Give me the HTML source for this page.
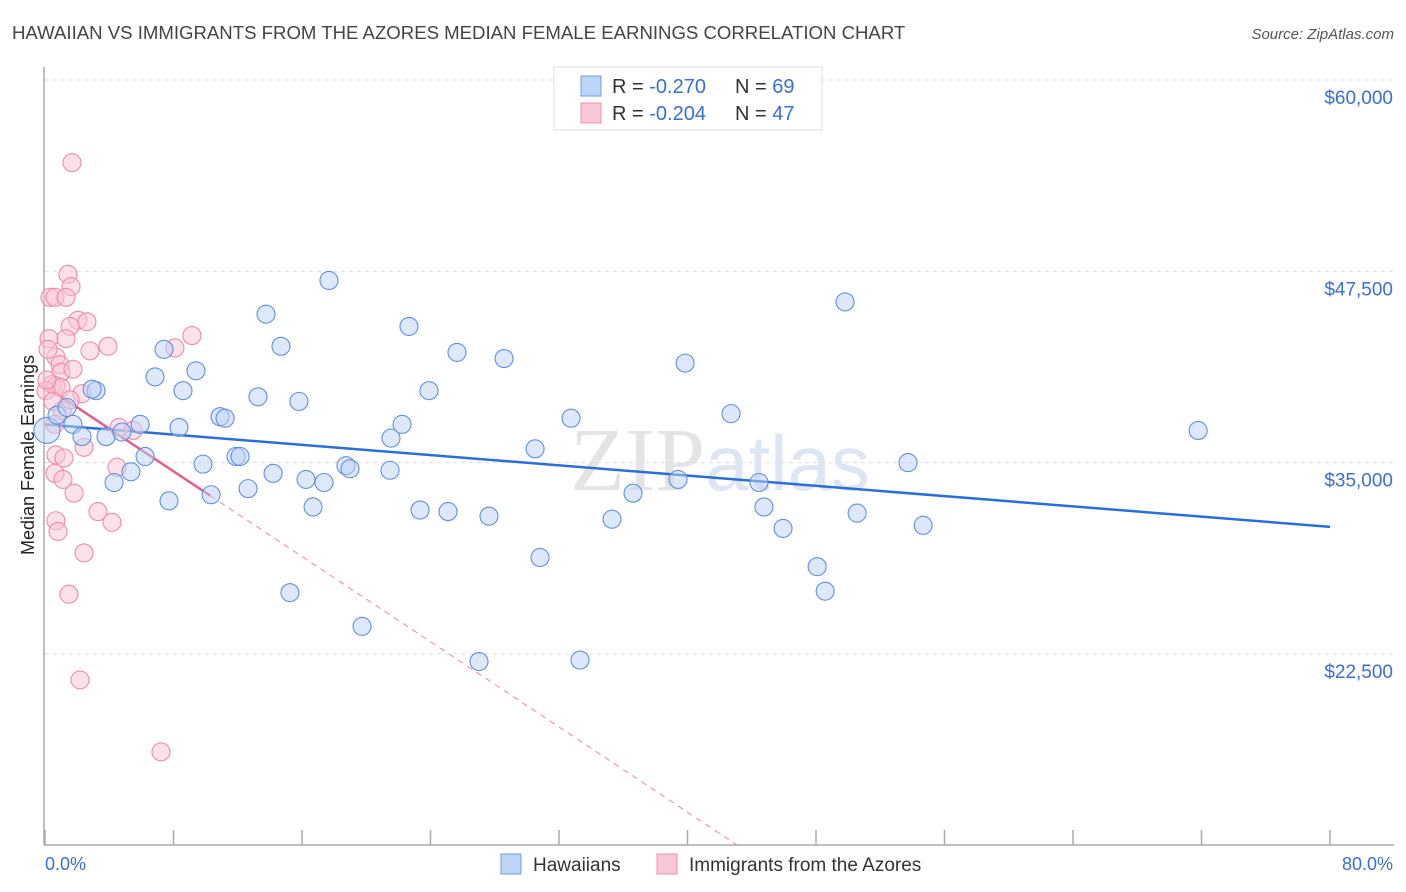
<!DOCTYPE html>
<html><head><meta charset="utf-8">
<style>
body{margin:0;background:#fff;font-family:"Liberation Sans",sans-serif;}
#wrap{position:relative;width:1406px;height:892px;overflow:hidden;}
</style></head>
<body>
<div id="wrap">
<svg id="chart" width="1406" height="892" xmlns="http://www.w3.org/2000/svg">
<text x="12" y="39" font-size="18.6" fill="#444">HAWAIIAN VS IMMIGRANTS FROM THE AZORES MEDIAN FEMALE EARNINGS CORRELATION CHART</text>
<text x="1394" y="39" font-size="15" fill="#555" font-style="italic" text-anchor="end">Source: ZipAtlas.com</text>
<text x="720" y="490" font-size="90" fill="#e4e4e4" text-anchor="middle" font-family="Liberation Serif,serif">ZIP<tspan fill="#dde6f2" font-family="Liberation Sans,sans-serif" font-size="78">atlas</tspan></text>
<g id="grid"></g>
<g id="axes"></g>
<g id="lines"></g>
<g id="pts"></g>
<text transform="translate(34,455) rotate(-90)" font-size="18" fill="#222" text-anchor="middle">Median Female Earnings</text>
<text x="45" y="870" font-size="18" fill="#3a6fd0">0.0%</text>
<text x="1393" y="870" font-size="18" fill="#3a6fd0" text-anchor="end">80.0%</text>
<g>
<rect x="554" y="67" width="268" height="63" fill="#fff" stroke="#ddd"/>
<rect x="581" y="76" width="20" height="20" fill="#bcd4f5" stroke="#6f9be0"/>
<rect x="581" y="103" width="20" height="20" fill="#f9c8d6" stroke="#ee8fab"/>
<text x="612" y="93" font-size="20" fill="#333">R = <tspan fill="#3a6fd0">-0.270</tspan><tspan x="735">N = </tspan><tspan fill="#3a6fd0">69</tspan></text>
<text x="612" y="120" font-size="20" fill="#333">R = <tspan fill="#3a6fd0">-0.204</tspan><tspan x="735">N = </tspan><tspan fill="#3a6fd0">47</tspan></text>
</g>
<g>
<rect x="501" y="854" width="20" height="20" fill="#bcd4f5" stroke="#6f9be0"/>
<text x="533" y="871" font-size="19" fill="#333">Hawaiians</text>
<rect x="657" y="854" width="20" height="20" fill="#f9c8d6" stroke="#ee8fab"/>
<text x="689" y="871" font-size="19" fill="#333">Immigrants from the Azores</text>
</g>
</svg>
</div>
<script>
const yTicks=[60000,47500,35000,22500];
const yTickLabels=["$60,000","$47,500","$35,000","$22,500"];
const xTicks=[0,8,16,24,32,40,48,56,64,72,80];
const blueX=[0.12,0.75,1.37,1.74,2.30,3.18,2.93,3.80,4.30,4.79,5.35,5.92,6.23,6.85,7.41,7.72,8.34,8.59,9.40,9.84,10.34,10.90,11.21,11.89,12.14,12.64,13.26,13.76,14.20,14.69,15.25,15.81,16.25,16.69,17.37,17.68,18.74,18.99,19.74,21.48,21.54,22.23,22.66,23.35,23.91,25.09,25.65,27.02,27.64,28.58,30.51,30.82,32.75,33.31,35.30,36.61,39.41,39.85,42.71,44.45,44.76,45.95,48.07,48.57,49.81,50.56,53.73,54.67,71.79];
const blueY=[37100,38100,38600,37500,36700,39700,39800,36700,33700,37000,34400,37500,35400,40600,42400,32500,37300,39700,41000,34900,32900,38000,37900,35400,35400,33300,39300,44700,34300,42600,26500,39000,33900,32100,33700,46900,34800,34600,24300,34500,36600,37500,43900,31900,39700,31800,42200,22000,31500,41800,35900,28800,37900,22100,31300,33000,33900,41500,38200,33700,32100,30700,28200,26600,45500,31700,35000,30900,37100];
const pinkX=[1.68,1.43,1.62,0.31,0.62,1.31,2.05,2.61,1.56,0.25,1.31,3.92,8.09,9.15,2.80,0.68,0.93,1.00,0.44,0.68,1.00,0.06,2.30,1.06,0.62,4.61,5.48,2.43,0.68,1.18,4.48,0.62,1.12,1.81,3.30,4.17,0.68,0.81,2.43,1.49,2.18,7.22,0.19,0.50,0.12,1.74,1.56];
const pinkY=[54600,47300,46500,45800,45800,45800,44300,44200,43900,43100,43100,42600,42500,43300,42300,41900,41400,40900,40100,40000,39900,39700,39500,38400,37500,37300,37100,36000,35500,35300,34700,34300,33900,33000,31800,31100,31200,30500,29100,26400,20800,16100,42400,39000,40400,41100,39100];
const blueTrend=[37500,30800];
const pinkTrend=[40000,-696];
const pinkSolidEnd=10.3;

const NS="http://www.w3.org/2000/svg";
const X=p=>45+p*(1285/80);
const Y=v=>80+(60000-v)*(191.3/12500);
const YMIN=60000-(845-80)*12500/191.3;
function mk(tag,attrs,parent){const e=document.createElementNS(NS,tag);for(const k in attrs)e.setAttribute(k,attrs[k]);document.getElementById(parent).appendChild(e);return e;}
yTicks.forEach((v,i)=>{
 const l=mk('line',{x1:45,x2:1394,y1:Y(v),y2:Y(v),stroke:'#ddd','stroke-dasharray':'4,4'},'grid');
 
 
 const t=mk('text',{x:1393,y:Y(v)+24,'font-size':19,fill:'#3a6fd0','text-anchor':'end'},'grid');
 t.textContent=yTickLabels[i];
 
 
});
const ya=mk('line',{x1:44,x2:44,y1:67,y2:845,stroke:'#aaa','stroke-width':1.5},'axes');


const xa=mk('line',{x1:44,x2:1394,y1:845,y2:845,stroke:'#aaa','stroke-width':1.5},'axes');


xTicks.forEach(p=>{const t=mk('line',{x1:X(p),x2:X(p),y1:830,y2:845,stroke:'#aaa','stroke-width':1.5},'axes');
 
 });
function pts(xs,ys,fill,stroke,name){xs.forEach((x,i)=>{
 const c=mk('circle',{cx:X(x),cy:Y(ys[i]),r:(name==='hawaiian-point'&&i===0)?13:9,fill:fill,'fill-opacity':0.5,stroke:stroke,'stroke-width':1.1},'pts');
 
 });}
pts(pinkX,pinkY,'#f9c3d3','#ec8ca8','azores-point');
pts(blueX,blueY,'#bcd4f5','#5f8fdc','hawaiian-point');
const bl=mk('line',{x1:X(0),y1:Y(blueTrend[0]),x2:X(80),y2:Y(blueTrend[1]),stroke:'#2a6fd6','stroke-width':2.5},'lines');


const pEnd=(YMIN-pinkTrend[0])/pinkTrend[1];
const pd=mk('line',{x1:X(pinkSolidEnd),y1:Y(pinkTrend[0]+pinkTrend[1]*pinkSolidEnd),x2:X(pEnd),y2:Y(YMIN),stroke:'#e68aa5','stroke-width':1,'stroke-dasharray':'6,5'},'lines');


const ps=mk('line',{x1:X(0),y1:Y(pinkTrend[0]),x2:X(pinkSolidEnd),y2:Y(pinkTrend[0]+pinkTrend[1]*pinkSolidEnd),stroke:'#e0608a','stroke-width':2.5},'lines');


</script>
</body></html>
